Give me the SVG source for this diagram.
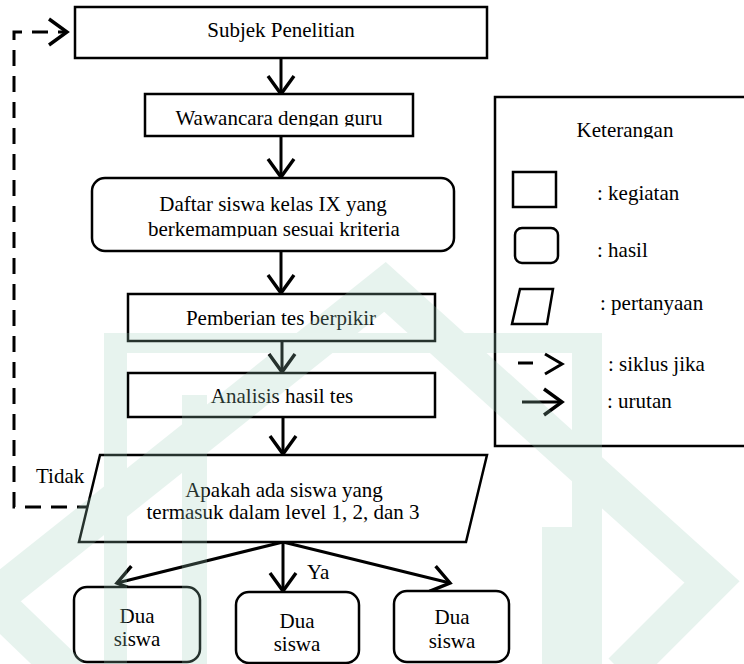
<svg xmlns="http://www.w3.org/2000/svg" width="744" height="664" viewBox="0 0 744 664">
<style>
.box{fill:#fff;stroke:#000;stroke-width:2.5}
.t{font-family:'Liberation Serif','Tinos','DejaVu Serif',serif;font-size:21px;fill:#000}
.c{text-anchor:middle}
.ln{fill:none;stroke:#000;stroke-width:3}
.dash{stroke-dasharray:16 10}
.wm{fill:#9dcfbb;stroke:none}
</style>
<defs>
<marker id="ah" markerUnits="userSpaceOnUse" markerWidth="26" markerHeight="32" viewBox="0 0 26 32" refX="22" refY="16" orient="auto">
<path d="M4,3 L22,16 L4,29" fill="none" stroke="#000" stroke-width="3.4"/>
</marker>
<clipPath id="clipW"><rect x="140" y="90" width="280" height="36.5"/></clipPath>
<clipPath id="clipD"><rect x="90" y="175" width="370" height="62.5"/></clipPath>
<clipPath id="clipK"><rect x="495" y="97" width="249" height="41.5"/></clipPath>
</defs>
<rect width="744" height="664" fill="#fff"/>

<g id="connectors">
<line class="ln" x1="281" y1="58" x2="281" y2="94" marker-end="url(#ah)"/>
<line class="ln" x1="281" y1="136" x2="281" y2="177" marker-end="url(#ah)"/>
<line class="ln" x1="281" y1="251" x2="281" y2="293" marker-end="url(#ah)"/>
<line class="ln" x1="282" y1="341" x2="282" y2="372" marker-end="url(#ah)"/>
<line class="ln" x1="283" y1="417" x2="283" y2="454" marker-end="url(#ah)"/>
<line class="ln" x1="283" y1="542" x2="117" y2="583" marker-end="url(#ah)"/>
<line class="ln" x1="283" y1="542" x2="283" y2="591" marker-end="url(#ah)"/>
<line class="ln" x1="283" y1="542" x2="450" y2="583" marker-end="url(#ah)"/>
<path class="ln dash" d="M93,507 H14 V32 H67" marker-end="url(#ah)"/>
<text class="t" x="36" y="483">Tidak</text>
<text class="t" x="307" y="579">Ya</text>
</g>

<g id="subjek">
<rect class="box" x="75" y="7" width="412" height="51"/>
<text class="t c" x="281" y="37">Subjek Penelitian</text>
</g>
<g id="wawancara">
<rect class="box" x="145" y="94" width="268" height="42"/>
<text class="t c" x="279" y="125" clip-path="url(#clipW)">Wawancara dengan guru</text>
</g>
<g id="daftar">
<rect class="box" x="92" y="178" width="362" height="73" rx="13"/>
<text class="t c" x="273" y="211">Daftar siswa kelas IX yang</text>
<text class="t c" x="274" y="236" clip-path="url(#clipD)">berkemampuan sesuai kriteria</text>
</g>
<g id="pemberian">
<rect class="box" x="128" y="294" width="307" height="47"/>
<text class="t c" x="281" y="325">Pemberian tes berpikir</text>
</g>
<g id="analisis">
<rect class="box" x="128" y="373" width="307" height="44"/>
<text class="t c" x="282" y="403">Analisis hasil tes</text>
</g>
<g id="pertanyaan">
<polygon class="box" points="100,455 487,455 466,542 79,542"/>
<text class="t c" x="284" y="497">Apakah ada siswa yang</text>
<text class="t c" x="283" y="519">termasuk dalam level 1, 2, dan 3</text>
</g>
<g id="hasil1">
<rect class="box" x="74" y="587" width="126" height="75" rx="13"/>
<text class="t c" x="137" y="623">Dua</text>
<text class="t c" x="137" y="646">siswa</text>
</g>
<g id="hasil2">
<rect class="box" x="236" y="592" width="123" height="71" rx="13"/>
<text class="t c" x="297" y="628">Dua</text>
<text class="t c" x="297" y="651">siswa</text>
</g>
<g id="hasil3">
<rect class="box" x="394" y="591" width="115" height="71" rx="13"/>
<text class="t c" x="452" y="624">Dua</text>
<text class="t c" x="452" y="648">siswa</text>
</g>

<g id="legend">
<rect class="box" x="495" y="97" width="270" height="349"/>
<text class="t c" x="625" y="137" clip-path="url(#clipK)">Keterangan</text>
<rect class="box" x="513" y="172" width="43" height="35"/>
<text class="t" x="597" y="200">: kegiatan</text>
<rect class="box" x="515" y="228" width="43" height="35" rx="7"/>
<text class="t" x="597" y="257">: hasil</text>
<polygon class="box" points="520,289 553,289 547,324 512,324"/>
<text class="t" x="600" y="310">: pertanyaan</text>
<line class="ln" x1="518" y1="363" x2="533" y2="363" stroke-width="3.5"/>
<path class="ln" d="M545,354 L562,364 L545,374" stroke-width="3.5"/>
<text class="t" x="608" y="371">: siklus jika</text>
<line class="ln" x1="522" y1="402" x2="562" y2="402" marker-end="url(#ah)"/>
<text class="t" x="607" y="408">: urutan</text>
</g>

<g id="watermark" opacity="0.24">
<polyline points="70,675 -8,600 385,287 712,582 622,672" fill="none" stroke="#9dcfbb" stroke-width="38" stroke-linejoin="miter"/>
<rect class="wm" x="104" y="333" width="23" height="331"/>
<rect class="wm" x="127" y="333" width="475" height="20"/>
<rect class="wm" x="182" y="395" width="25" height="269"/>
<rect class="wm" x="572" y="353" width="30" height="311"/>
<rect class="wm" x="542" y="527" width="30" height="137"/>
</g>
</svg>
